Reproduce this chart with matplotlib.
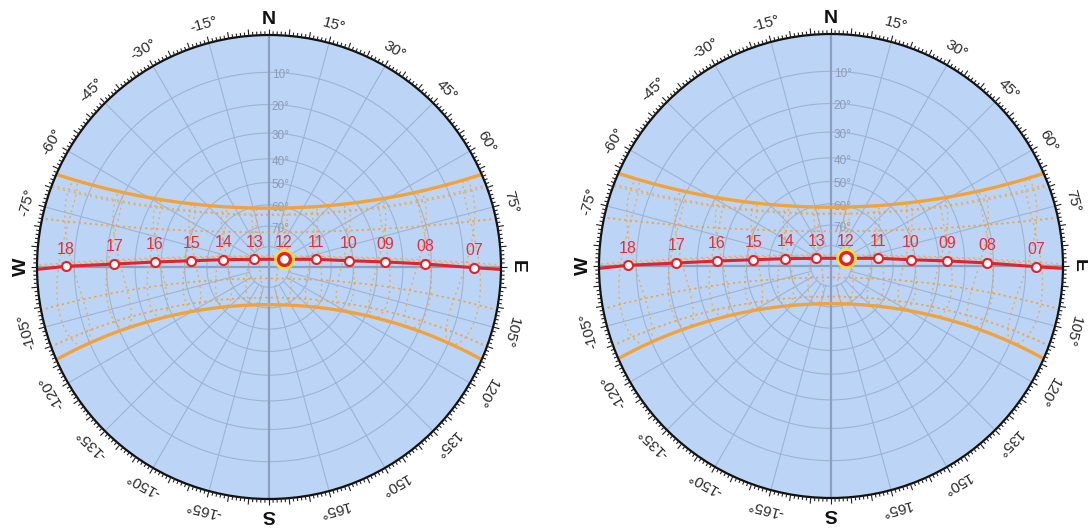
import numpy as np
import matplotlib
matplotlib.use("Agg")
import matplotlib.pyplot as plt
from matplotlib.patches import Circle
from matplotlib.collections import LineCollection

plt.rcParams['font.family'] = ['Liberation Sans', 'DejaVu Sans']

# ---------------- data ----------------
hour_labels = ['07', '08', '09', '10', '11', '12', '13', '14', '15', '16', '17', '18']
hour_az = [90.2, 88.9, 87.5, 85.5, 80.7, 62.8, -62.4, -80.9, -85.4, -87.5, -88.9, -89.8]
hour_alt = [7.1, 22.0, 36.8, 52.0, 66.8, 81.7, 81.8, 67.4, 52.8, 37.6, 22.6, 7.6]
rise_az, set_az = 90.6, -90.6          # where the day path meets the horizon
current_hour = '12'

latitude = -5.0                         # site latitude (deg)
solstice_decl = [23.44, -23.44]         # thick orange lines
month_decl = [-20.1, -10.6, 0.0, 11.9, 20.1, 20.6, 12.1, 0.5, -10.7, -19.9]  # dotted
analemma_hours = [6, 7, 8, 9, 10, 11, 12, 13, 14, 15, 16, 17, 18, 19]
mean_noon_clock = 12.5                  # clock time of mean solar noon

alt_rings = [10, 20, 30, 40, 50, 60, 70, 80]
az_label_step = 15

# ---------------- styling ----------------
FACE = '#bcd5f7'
GRID = '#9fb3d3'
AXIS = '#8d9fbf'
ORANGE = '#f2a23a'
RED = '#e3222c'
LABEL_RED = '#e0303c'


def proj(az, alt):
    az = np.radians(np.asarray(az, float))
    z = np.radians(90.0 - np.asarray(alt, float))
    r = np.tan(z / 2.0)
    return r * np.sin(az), r * np.cos(az)


def altaz(dec, H, lat):
    d, h, p = np.radians(dec), np.radians(H), np.radians(lat)
    east = -np.cos(d) * np.sin(h)
    north = np.sin(d) * np.cos(p) - np.cos(d) * np.cos(h) * np.sin(p)
    up = np.sin(d) * np.sin(p) + np.cos(d) * np.cos(h) * np.cos(p)
    alt = np.degrees(np.arcsin(np.clip(up, -1, 1)))
    az = np.degrees(np.arctan2(east, north))
    return az, alt


def draw_chart(ax):
    ax.set_aspect('equal')
    ax.axis('off')
    disk = Circle((0, 0), 1.0, facecolor=FACE, edgecolor='none', zorder=0)
    ax.add_patch(disk)

    # altitude rings
    t = np.linspace(0, 2 * np.pi, 400)
    for a in alt_rings:
        r = np.tan(np.radians(90 - a) / 2)
        ax.plot(r * np.cos(t), r * np.sin(t), color=GRID, lw=0.8, zorder=1)
    # azimuth spokes
    for az in range(0, 360, 15):
        if az % 90 == 0:
            continue
        x0, y0 = proj(az, 80)
        x1, y1 = proj(az, 0)
        ax.plot([x0, x1], [y0, y1], color=GRID, lw=0.8, zorder=1)
    # N-S / E-W axes
    ax.plot([0, 0], [-1, 1], color=AXIS, lw=1.6, zorder=2)
    ax.plot([-1, 1], [0, 0], color=AXIS, lw=1.6, zorder=2)

    # declination (monthly) lines
    H = np.linspace(-180, 180, 721)
    for dec in month_decl:
        az, alt = altaz(dec, H, latitude)
        alt = np.where(alt < -2, np.nan, alt)
        x, y = proj(az, alt)
        ln, = ax.plot(x, y, color=ORANGE, lw=1.0, ls=(0, (1.5, 2.5)), alpha=0.8, zorder=3)
        ln.set_clip_path(disk)
    for dec in solstice_decl:
        az, alt = altaz(dec, H, latitude)
        alt = np.where(alt < -2, np.nan, alt)
        x, y = proj(az, alt)
        ln, = ax.plot(x, y, color=ORANGE, lw=2.4, zorder=4)
        ln.set_clip_path(disk)

    # analemmas
    n = np.arange(1, 367)
    B = np.radians(360.0 / 365.0 * (n - 81))
    eot = 9.87 * np.sin(2 * B) - 7.53 * np.cos(B) - 1.5 * np.sin(B)
    dec_n = 23.45 * np.sin(np.radians(360.0 / 365.0 * (284 + n)))
    for hr in analemma_hours:
        Hn = 15.0 * (hr - mean_noon_clock + eot / 60.0)
        az, alt = altaz(dec_n, Hn, latitude)
        alt = np.where(alt < -2, np.nan, alt)
        x, y = proj(az, alt)
        ln, = ax.plot(x, y, color=ORANGE, lw=1.0, ls=(0, (1.5, 2.5)), alpha=0.8, zorder=3)
        ln.set_clip_path(disk)

    # day path
    path_az = [rise_az] + hour_az + [set_az]
    path_alt = [0.0] + hour_alt + [0.0]
    px, py = proj(path_az, path_alt)
    ax.plot(px, py, color=RED, lw=2.2, zorder=5, solid_capstyle='butt')
    hx, hy = proj(hour_az, hour_alt)
    for lab, x, y in zip(hour_labels, hx, hy):
        if lab == current_hour:
            ax.plot(x, y, 'o', ms=15, color='#f5e03a', alpha=0.9, mec='none', zorder=6)
            ax.plot(x, y, 'o', ms=8.5, mfc='white', mec=RED, mew=2.4, zorder=7)
        else:
            ax.plot(x, y, 'o', ms=6.5, mfc='white', mec=RED, mew=1.5, zorder=7)
        ax.text(x, y + 0.074, lab, color=LABEL_RED, fontsize=11.5, ha='center',
                va='center', zorder=8)

    # altitude labels
    for a in alt_rings[:-1]:
        r = np.tan(np.radians(90 - a) / 2)
        ax.text(0.012, r - 0.012, f'{a}°', color='#8e9bb3', fontsize=8.5,
                ha='left', va='center', zorder=2)

    # rim and ticks
    ax.add_patch(Circle((0, 0), 1.0, facecolor='none', edgecolor='#111111', lw=1.6, zorder=9))
    segs = []
    for d in range(360):
        ln = 0.028 if d % 5 == 0 else 0.016
        a = np.radians(d)
        segs.append([(np.sin(a), np.cos(a)), ((1 + ln) * np.sin(a), (1 + ln) * np.cos(a))])
    ax.add_collection(LineCollection(segs, colors='#222222', linewidths=0.8, zorder=9))

    # azimuth labels
    cardinals = {0: 'N', 90: 'E', 180: 'S', 270: 'W'}
    for d in range(0, 360, az_label_step):
        a = np.radians(d)
        if d in cardinals:
            rr = 1.068
            ax.text(rr * np.sin(a), rr * np.cos(a), cardinals[d], rotation=-d,
                    rotation_mode='anchor', ha='center', va='center',
                    fontsize=14, fontweight='bold', color='#111111')
        else:
            val = d if d < 180 else d - 360
            rr = 1.08
            ax.text(rr * np.sin(a), rr * np.cos(a), f'{val}°', rotation=-d,
                    rotation_mode='anchor', ha='center', va='center',
                    fontsize=11, color='#2a2a2a')


fig = plt.figure(figsize=(10.88, 5.32), dpi=100)
R = 232.0
for (left_px, cx, cy) in [(0, 269, 267), (544, 831, 266)]:
    ax = fig.add_axes([left_px / 1088, 0, 544 / 1088, 1])
    ax.set_xlim(-(cx - left_px) / R, (left_px + 544 - cx) / R)
    ax.set_ylim(-(532 - cy) / R, cy / R)
    draw_chart(ax)

fig.savefig('out.png', dpi=100)
